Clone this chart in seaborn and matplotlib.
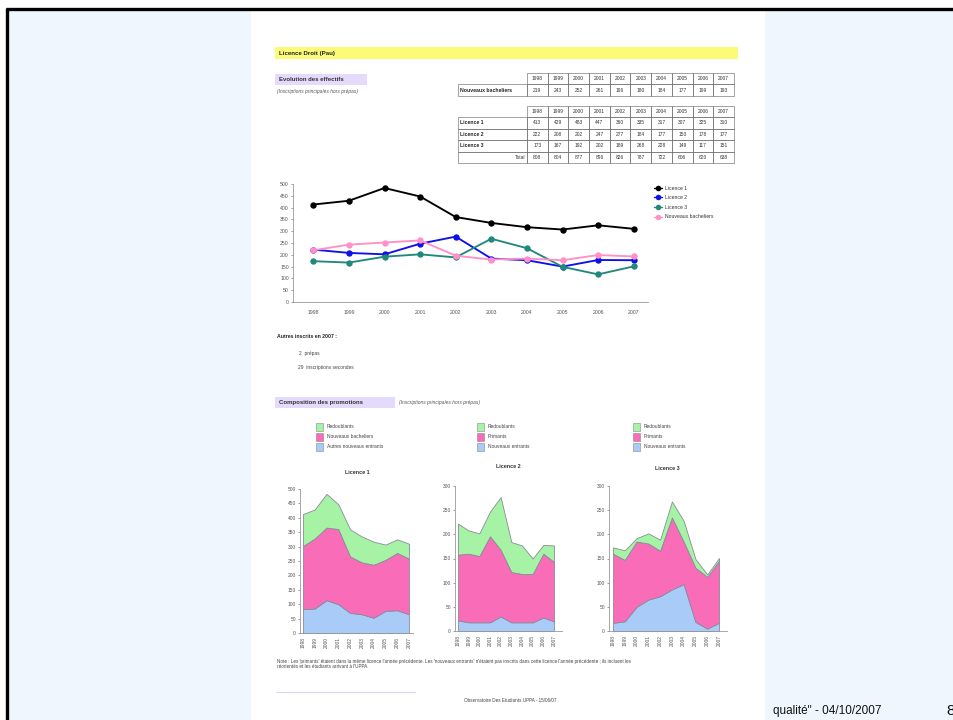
import pandas as pd
import seaborn as sns
import matplotlib.pyplot as plt
from matplotlib.patches import Rectangle
from matplotlib.lines import Line2D

# =====================
# Data
# =====================
years = [1998, 1999, 2000, 2001, 2002, 2003, 2004, 2005, 2006, 2007]
nouveaux_bacheliers = [219, 243, 252, 261, 196, 180, 184, 177, 199, 193]
licence1 = [413, 429, 483, 447, 360, 335, 317, 307, 325, 310]
licence2 = [222, 208, 202, 247, 277, 184, 177, 150, 178, 177]
licence3 = [173, 167, 192, 202, 189, 268, 228, 149, 117, 151]
totals = [808, 804, 877, 896, 826, 787, 722, 606, 620, 638]

# composition des promotions (stacked: bottom -> top)
l1_autres = [83, 85, 114, 100, 70, 65, 53, 77, 79, 65]
l1_bacheliers = [219, 243, 252, 261, 196, 180, 184, 177, 199, 193]
l1_redoublants = [111, 101, 117, 86, 94, 90, 80, 53, 47, 52]

l2_entrants = [22, 18, 18, 18, 30, 18, 18, 18, 28, 20]
l2_primants = [136, 142, 137, 178, 138, 104, 100, 100, 132, 123]
l2_redoublants = [64, 48, 47, 51, 109, 62, 59, 32, 18, 34]

l3_entrants = [17, 20, 50, 65, 72, 86, 97, 19, 5, 17]
l3_primants = [143, 127, 135, 116, 94, 149, 88, 112, 107, 128]
l3_redoublants = [13, 20, 7, 21, 23, 33, 43, 18, 5, 6]

series_names = ["Licence 1", "Licence 2", "Licence 3", "Nouveaux bacheliers"]
series_colors = ["#000000", "#1010e8", "#21897c", "#ff90c8"]
area_colors = ["#a9cbf7", "#f96db8", "#a6f3a6"]

# =====================
# Style
# =====================
sns.set_theme(style="ticks")
plt.rcParams["font.family"] = ["Liberation Sans", "DejaVu Sans"]

W, H = 954, 720
fig = plt.figure(figsize=(W / 100, H / 100), dpi=100)
fig.patch.set_facecolor("white")


def box(x0, y0, x1, y1):
    return [x0 / W, 1 - y1 / H, (x1 - x0) / W, (y1 - y0) / H]


# page / slide background in pixel coords
pg = fig.add_axes([0, 0, 1, 1])
pg.set_xlim(0, W)
pg.set_ylim(H, 0)
pg.axis("off")

pg.add_patch(Rectangle((8, 10), W, H, color="#eff6fe", lw=0))
pg.add_patch(Rectangle((251, 10), 514, H, color="white", lw=0))
pg.plot([6, W], [9, 9], color="black", lw=2.4, solid_capstyle="butt")
pg.plot([7.5, 7.5], [8, H], color="black", lw=2.4, solid_capstyle="butt")
pg.text(773, 711, "qualité\" - 04/10/2007", fontsize=8.5, va="center", ha="left", color="#111")
pg.text(946, 711, "8", fontsize=11, va="center", ha="left", color="#111")

# headers
pg.add_patch(Rectangle((275, 47), 463, 12, color="#fbfb78", lw=0))
pg.text(279, 53, "Licence Droit (Pau)", fontsize=4.4, fontweight="bold", va="center", color="#222")
pg.add_patch(Rectangle((275, 74), 92, 11, color="#e4dafc", lw=0))
pg.text(279, 79.5, "Evolution des effectifs", fontsize=4.3, fontweight="bold", va="center", color="#333")
pg.text(277, 92, "(Inscriptions principales hors prépas)", fontsize=3.5, style="italic", va="center", color="#555")

# tables
col0, col1, colw = 458, 527, 20.7
ec = "#6e6e6e"


def year_header(y0, y1):
    for i, yr in enumerate(years):
        x = col1 + i * colw
        pg.add_patch(Rectangle((x, y0), colw, y1 - y0, fill=False, ec=ec, lw=0.45))
        pg.text(x + colw / 2, (y0 + y1) / 2, str(yr), ha="center", va="center", fontsize=3.5, color="#333")


def table_row(y0, y1, label, vals, bold=True):
    pg.add_patch(Rectangle((col0, y0), col1 - col0, y1 - y0, fill=False, ec=ec, lw=0.45))
    if bold:
        pg.text(col0 + 2, (y0 + y1) / 2, label, va="center", fontsize=3.7, fontweight="bold", color="#222")
    else:
        pg.text(col1 - 2, (y0 + y1) / 2, label, va="center", ha="right", fontsize=3.5, color="#333")
    for i, v in enumerate(vals):
        x = col1 + i * colw
        pg.add_patch(Rectangle((x, y0), colw, y1 - y0, fill=False, ec=ec, lw=0.45))
        pg.text(x + colw / 2, (y0 + y1) / 2, str(v), ha="center", va="center", fontsize=3.5, color="#333")


year_header(73, 84)
table_row(84, 96, "Nouveaux bacheliers", nouveaux_bacheliers)
year_header(106, 117)
table_row(117, 128.5, "Licence 1", licence1)
table_row(128.5, 140, "Licence 2", licence2)
table_row(140, 151.5, "Licence 3", licence3)
table_row(151.5, 163, "Total", totals, bold=False)

# =====================
# Line chart
# =====================
df = pd.DataFrame({
    "annee": years * 4,
    "effectif": licence1 + licence2 + licence3 + nouveaux_bacheliers,
    "serie": sum([[n] * len(years) for n in series_names], []),
})
ax = fig.add_axes(box(293, 184, 648, 302))
sns.lineplot(data=df, x="annee", y="effectif", hue="serie", hue_order=series_names,
             palette=series_colors, marker="o", markersize=4.6, markeredgewidth=0,
             lw=1.35, ax=ax, legend=False)
ax.set_xlim(1997.43, 2007.4)
ax.set_ylim(0, 500)
ax.set_yticks(range(0, 501, 50))
ax.set_xticks(years)
ax.set_xlabel("")
ax.set_ylabel("")
ax.tick_params(labelsize=3.7, colors="#555", length=1.5, width=0.4, pad=1.5)
ax.tick_params(axis="x", length=0, pad=6)
for s in ["top", "right"]:
    ax.spines[s].set_visible(False)
for s in ["left", "bottom"]:
    ax.spines[s].set_color("#999")
    ax.spines[s].set_linewidth(0.6)
ax.patch.set_alpha(0)

handles = [Line2D([], [], color=c, marker="o", ms=4, mew=0, lw=1.0) for c in series_colors]
fig.legend(handles, series_names, loc="upper left", bbox_to_anchor=(651 / W, 1 - 183 / H),
           frameon=False, fontsize=3.7, handlelength=1.6, handletextpad=0.6,
           labelspacing=0.9, borderpad=0, labelcolor="#333")

# other text
pg.text(277, 337, "Autres inscrits en 2007 :", fontsize=3.7, fontweight="bold", va="center", color="#222")
pg.text(299, 353, "2  prépas", fontsize=3.5, va="center", color="#444")
pg.text(298, 368, "29  inscriptions secondes", fontsize=3.5, va="center", color="#444")

pg.add_patch(Rectangle((275, 397), 120, 11, color="#e4dafc", lw=0))
pg.text(279, 402.5, "Composition des promotions", fontsize=4.3, fontweight="bold", va="center", color="#333")
pg.text(399, 402.5, "(Inscriptions principales hors prépas)", fontsize=3.5, style="italic", va="center", color="#555")

# =====================
# Area charts
# =====================
legend_sets = [
    (316, ["Redoublants", "Nouveaux bacheliers", "Autres nouveaux entrants"]),
    (477, ["Redoublants", "Primants", "Nouveaux entrants"]),
    (633, ["Redoublants", "Primants", "Nouveaux entrants"]),
]
for lx, labels in legend_sets:
    for j, (lab, col) in enumerate(zip(labels, area_colors[::-1])):
        yc = 427 + j * 10
        pg.add_patch(Rectangle((lx, yc - 4), 7, 8, fc=col, ec="#888", lw=0.4))
        pg.text(lx + 11, yc, lab, fontsize=3.5, va="center", color="#444")

charts = [
    ("Licence 1", (300, 489, 413, 633), (1997.75, 2007.34), 500, 357, 472,
     [l1_autres, l1_bacheliers, l1_redoublants]),
    ("Licence 2", (455, 486, 562, 631), (1997.72, 2007.75), 300, 508, 467,
     [l2_entrants, l2_primants, l2_redoublants]),
    ("Licence 3", (609, 486, 727, 631), (1997.66, 2007.68), 300, 667, 469,
     [l3_entrants, l3_primants, l3_redoublants]),
]
for title, rect, xl, ymax, tx, ty, layers in charts:
    a = fig.add_axes(box(*rect))
    a.stackplot(years, *layers, colors=area_colors, edgecolor="#8a8a9a", lw=0.6)
    a.set_xlim(*xl)
    a.set_ylim(0, ymax)
    a.set_yticks(range(0, ymax + 1, 50))
    a.set_xticks(years)
    a.set_xticklabels([str(y) for y in years], rotation=90)
    a.tick_params(labelsize=3.5, colors="#555", length=1.5, width=0.4, pad=1.5)
    a.tick_params(axis="x", length=0, pad=3)
    for s in ["top", "right"]:
        a.spines[s].set_visible(False)
    for s in ["left", "bottom"]:
        a.spines[s].set_color("#999")
        a.spines[s].set_linewidth(0.6)
    a.patch.set_alpha(0)
    pg.text(tx, ty, title, fontsize=3.9, fontweight="bold", ha="center", va="center", color="#333")

# notes / footer
pg.text(277, 661, "Note : Les 'primants' étaient dans la même licence l'année précédente. Les 'nouveaux entrants' "
        "n'étaient pas inscrits dans cette licence l'année précédente ; ils incluent les", fontsize=3.35,
        va="center", color="#444")
pg.text(277, 667, "réorientés et les étudiants arrivant à l'UPPA.", fontsize=3.35, va="center", color="#444")
pg.plot([276, 415], [692, 692], color="#d8d4f4", lw=0.8)
pg.text(510, 701, "Observatoire Des Etudiants UPPA - 15/06/07", fontsize=3.35, ha="center", va="center", color="#444")

fig.savefig("out.png", dpi=100)
